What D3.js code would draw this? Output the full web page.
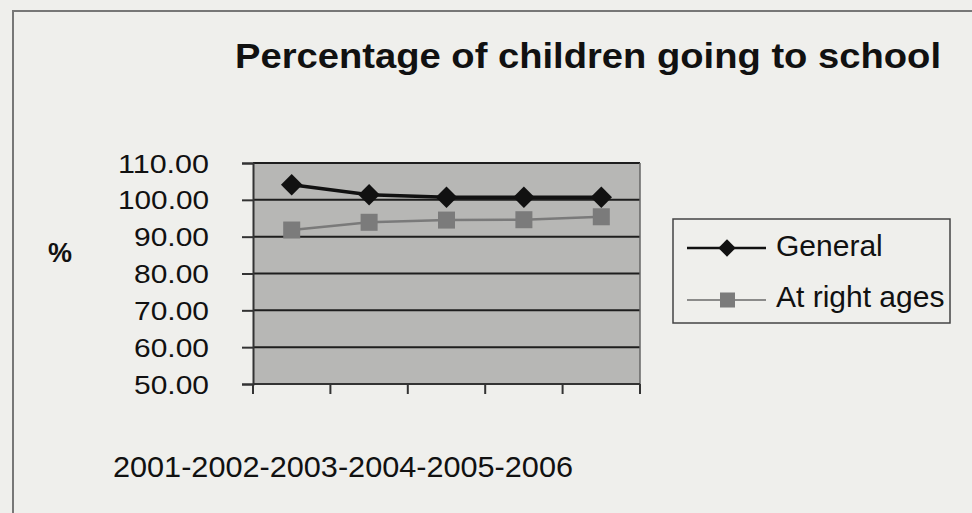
<!DOCTYPE html>
<html>
<head>
<meta charset="utf-8">
<script src="https://cdn.jsdelivr.net/npm/d3@7"></script>
<style>
  body { margin: 0; background: #efefec; }
  svg { display: block; }
</style>
</head>
<body>
<div id="chart"></div>
<script>
// data
const years = ["2001-2002", "2002-2003", "2003-2004", "2004-2005", "2005-2006"];
const general = [104.1, 101.4, 100.7, 100.7, 100.7];
const rightAges = [91.8, 93.9, 94.5, 94.6, 95.4];
const yTicks = [50, 60, 70, 80, 90, 100, 110];
const seriesNames = ["General", "At right ages"];

const width = 972, height = 513;
const plot = { left: 253, right: 640, top: 163, bottom: 384 };

const svg = d3.select("#chart")
    .append("svg")
        .attr("width", width)
        .attr("height", height);

// page frame
svg.append("rect")
    .attr("width", width).attr("height", height)
    .attr("fill", "#efefec");
svg.append("path")
    .attr("d", "M13,513 L13,11 L972,11")
    .attr("fill", "none")
    .attr("stroke", "#777")
    .attr("stroke-width", 2);

// title
svg.append("text")
    .attr("x", 235)
    .attr("y", 68)
    .attr("textLength", 706)
    .attr("lengthAdjust", "spacingAndGlyphs")
    .attr("font-family", "Liberation Sans, Arial, sans-serif")
    .attr("font-weight", "bold")
    .attr("font-size", 35)
    .attr("fill", "#111")
    .text("Percentage of children going to school");

// scales
const x = d3.scaleBand()
    .domain(years)
    .range([plot.left, plot.right])
    .padding(0);

const y = d3.scaleLinear()
    .domain([50, 110])
    .range([plot.bottom, plot.top]);

// plot background
svg.append("rect")
    .attr("x", plot.left)
    .attr("y", plot.top)
    .attr("width", plot.right - plot.left)
    .attr("height", plot.bottom - plot.top)
    .attr("fill", "#b7b7b5");

// gridlines
svg.append("g")
    .selectAll("line")
    .data(yTicks.slice(1))
    .enter().append("line")
        .attr("x1", plot.left)
        .attr("x2", plot.right)
        .attr("y1", d => y(d))
        .attr("y2", d => y(d))
        .attr("stroke", "#1e1e1e")
        .attr("stroke-width", 2);

// plot border right side
svg.append("line")
    .attr("x1", plot.right).attr("x2", plot.right)
    .attr("y1", plot.top).attr("y2", plot.bottom)
    .attr("stroke", "#666").attr("stroke-width", 1.5);

// y axis
const yAxis = svg.append("g")
    .attr("transform", "translate(" + plot.left + ",0)")
    .call(d3.axisLeft(y).tickValues(yTicks).tickSize(11).tickFormat(d3.format(".2f")));
yAxis.select(".domain").attr("stroke", "#333").attr("stroke-width", 2);
yAxis.selectAll(".tick line").attr("stroke", "#333").attr("stroke-width", 2);
yAxis.selectAll(".tick text")
    .attr("x", -44)
    .attr("dy", "0.35em")
    .attr("textLength", d => d >= 100 ? 91 : 75)
    .attr("lengthAdjust", "spacingAndGlyphs")
    .attr("font-family", "Liberation Sans, Arial, sans-serif")
    .attr("font-size", 26)
    .attr("fill", "#111");

// x axis, tick marks only at band edges
const edges = years.map(d => x(d)).concat([plot.right]);
const xAxis = svg.append("g")
    .attr("transform", "translate(0," + plot.bottom + ")");
xAxis.append("line")
    .attr("x1", plot.left).attr("x2", plot.right)
    .attr("stroke", "#333").attr("stroke-width", 2);
xAxis.selectAll(".edge")
    .data(edges)
    .enter().append("line")
        .attr("x1", d => d).attr("x2", d => d)
        .attr("y1", 0).attr("y2", 10)
        .attr("stroke", "#333").attr("stroke-width", 2);

// axis titles
svg.append("text")
    .attr("x", 48)
    .attr("y", 262)
    .attr("font-family", "Liberation Sans, Arial, sans-serif")
    .attr("font-weight", "bold")
    .attr("font-size", 27)
    .attr("fill", "#111")
    .text("%");

svg.append("text")
    .attr("x", 113)
    .attr("y", 477)
    .attr("textLength", 460)
    .attr("lengthAdjust", "spacingAndGlyphs")
    .attr("font-family", "Liberation Sans, Arial, sans-serif")
    .attr("font-size", 30)
    .attr("fill", "#111")
    .text(years[0].slice(0, 4) + "-" + years.map(d => d.slice(5)).join("-"));

const cx = d => x(d) + x.bandwidth() / 2;
const line = d3.line().x(d => cx(d.year)).y(d => y(d.value));

const generalData = years.map((d, i) => ({ year: d, value: general[i] }));
const agesData = years.map((d, i) => ({ year: d, value: rightAges[i] }));

// at right ages series
svg.append("path")
    .datum(agesData)
    .attr("d", line)
    .attr("fill", "none")
    .attr("stroke", "#7a7a7a")
    .attr("stroke-width", 2.5);
svg.append("g")
    .selectAll("rect")
    .data(agesData)
    .enter().append("rect")
        .attr("x", d => cx(d.year) - 8.5)
        .attr("y", d => y(d.value) - 8.5)
        .attr("width", 17)
        .attr("height", 17)
        .attr("fill", "#7b7b7b");

// general series
svg.append("path")
    .datum(generalData)
    .attr("d", line)
    .attr("fill", "none")
    .attr("stroke", "#111")
    .attr("stroke-width", 3.5);
svg.append("g")
    .selectAll("path")
    .data(generalData)
    .enter().append("path")
        .attr("d", d3.symbol().type(d3.symbolSquare).size(230))
        .attr("transform", d => "translate(" + cx(d.year) + "," + y(d.value) + ") rotate(45)")
        .attr("fill", "#111");

// legend
const legend = svg.append("g");
legend.append("rect")
    .attr("x", 673).attr("y", 219)
    .attr("width", 277).attr("height", 104)
    .attr("fill", "#efefec")
    .attr("stroke", "#444")
    .attr("stroke-width", 1.5);

const legendY = [248, 300];
legend.selectAll(".lline")
    .data(seriesNames)
    .enter().append("line")
        .attr("x1", 687).attr("x2", 766)
        .attr("y1", (d, i) => legendY[i]).attr("y2", (d, i) => legendY[i])
        .attr("stroke", (d, i) => i === 0 ? "#111" : "#6a6a6a")
        .attr("stroke-width", (d, i) => i === 0 ? 2.5 : 1.5);
legend.append("path")
    .attr("d", d3.symbol().type(d3.symbolSquare).size(150))
    .attr("transform", "translate(727," + legendY[0] + ") rotate(45)")
    .attr("fill", "#111");
legend.append("rect")
    .attr("x", 720).attr("y", legendY[1] - 7.5)
    .attr("width", 15).attr("height", 15)
    .attr("fill", "#7b7b7b");
legend.selectAll(".ltext")
    .data(seriesNames)
    .enter().append("text")
        .attr("x", 776)
        .attr("y", (d, i) => legendY[i] + (i === 0 ? 8 : 7))
        .attr("font-family", "Liberation Sans, Arial, sans-serif")
        .attr("font-size", 30)
        .attr("fill", "#111")
        .text(d => d);
</script>
</body>
</html>
